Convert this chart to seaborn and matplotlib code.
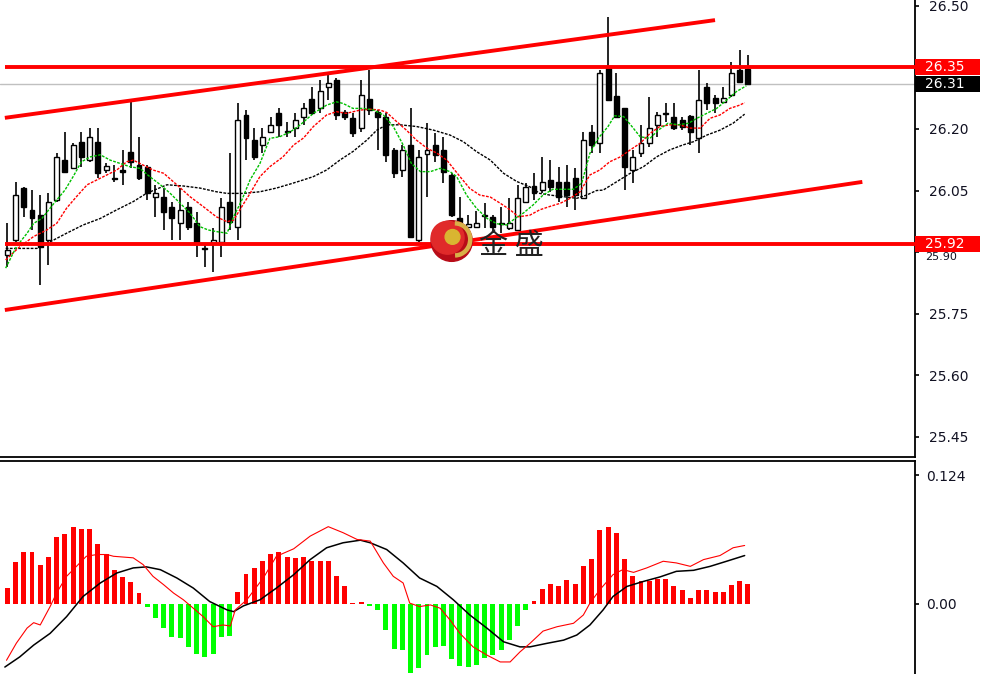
import numpy as np
import pandas as pd
import matplotlib
matplotlib.use('Agg')
import matplotlib.pyplot as plt
import matplotlib.transforms as mtransforms
from matplotlib.patches import Rectangle, Ellipse, Arc
import seaborn as sns

# candles
opens = [25.893, 25.930, 26.056, 26.003, 25.991, 25.930, 26.027, 26.124, 26.105, 26.168,
         26.124, 26.168, 26.100, 26.081, 26.100, 26.144, 26.112, 26.107, 26.034, 26.034,
         26.010, 25.971, 26.010, 25.971, 25.910, 25.922, 25.925, 26.022, 25.961, 26.234,
         26.173, 26.161, 26.193, 26.239, 26.195, 26.202, 26.229, 26.273, 26.251, 26.302,
         26.319, 26.241, 26.227, 26.202, 26.273, 26.241, 26.229, 26.149, 26.100, 26.161,
         25.930, 26.139, 26.161, 26.149, 26.088, 25.983, 25.961, 25.961, 25.988, 25.986,
         25.971, 25.959, 25.954, 26.022, 26.061, 26.051, 26.076, 26.071, 26.071, 26.081,
         26.032, 26.193, 26.166, 26.348, 26.280, 26.251, 26.100, 26.141, 26.166, 26.210,
         26.236, 26.229, 26.222, 26.232, 26.178, 26.302, 26.275, 26.266, 26.283, 26.344,
         26.346]
highs = [25.971, 26.071, 26.059, 26.051, 26.039, 26.044, 26.141, 26.193, 26.166, 26.193,
         26.202, 26.202, 26.117, 26.112, 26.149, 26.266, 26.180, 26.112, 26.064, 26.056,
         26.022, 26.056, 26.022, 25.998, 25.917, 25.959, 26.032, 26.141, 26.263, 26.246,
         26.202, 26.202, 26.229, 26.251, 26.217, 26.239, 26.263, 26.302, 26.319, 26.339,
         26.324, 26.246, 26.239, 26.319, 26.344, 26.246, 26.239, 26.154, 26.161, 26.251,
         26.149, 26.215, 26.190, 26.180, 26.093, 26.034, 25.991, 26.000, 26.020, 25.991,
         26.010, 26.032, 26.064, 26.068, 26.093, 26.132, 26.124, 26.107, 26.112, 26.105,
         26.193, 26.210, 26.344, 26.473, 26.336, 26.251, 26.149, 26.210, 26.278, 26.241,
         26.263, 26.263, 26.229, 26.234, 26.344, 26.312, 26.283, 26.302, 26.363, 26.392,
         26.380]
lows = [25.864, 25.925, 25.986, 25.954, 25.820, 25.869, 26.022, 26.095, 26.105, 26.107,
        26.120, 26.081, 26.093, 26.071, 26.064, 26.105, 26.076, 26.027, 25.986, 25.954,
        25.930, 25.930, 25.954, 25.888, 25.864, 25.852, 25.888, 25.954, 25.930, 26.124,
        26.124, 26.141, 26.190, 26.180, 26.180, 26.180, 26.210, 26.234, 26.239, 26.270,
        26.222, 26.222, 26.180, 26.193, 26.234, 26.149, 26.120, 26.081, 26.083, 25.937,
        25.925, 26.034, 26.120, 26.068, 25.986, 25.947, 25.947, 25.959, 25.959, 25.947,
        25.947, 25.954, 25.954, 26.020, 26.027, 26.044, 26.046, 26.022, 26.010, 26.003,
        26.032, 26.141, 26.141, 26.270, 26.229, 26.051, 26.068, 26.132, 26.156, 26.180,
        26.217, 26.197, 26.197, 26.161, 26.141, 26.246, 26.239, 26.263, 26.278, 26.314,
        26.307]
closes = [25.905, 26.039, 26.010, 25.983, 25.913, 26.022, 26.132, 26.095, 26.161, 26.132,
          26.180, 26.093, 26.110, 26.078, 26.095, 26.120, 26.081, 26.044, 26.044, 25.998,
          25.983, 26.003, 25.961, 25.925, 25.908, 25.930, 26.010, 25.973, 26.222, 26.178,
          26.132, 26.180, 26.210, 26.210, 26.193, 26.222, 26.251, 26.239, 26.292, 26.312,
          26.234, 26.229, 26.190, 26.283, 26.246, 26.229, 26.137, 26.093, 26.149, 25.937,
          26.132, 26.149, 26.137, 26.095, 25.991, 25.973, 25.969, 25.971, 25.991, 25.961,
          25.969, 25.971, 26.032, 26.059, 26.044, 26.071, 26.059, 26.034, 26.039, 26.039,
          26.173, 26.161, 26.336, 26.270, 26.229, 26.107, 26.132, 26.166, 26.202, 26.234,
          26.239, 26.202, 26.205, 26.193, 26.270, 26.263, 26.263, 26.275, 26.336, 26.314,
          26.310]

# moving averages on the price pane (bar index, price)
ma_fast_x = [-0.2, 1.1, 2.4, 3.2, 4.2, 5.2, 6.0, 7.0, 8.0, 9.0, 10.1, 11.3, 12.5, 13.7, 14.9,
             16.1, 17.3, 18.6, 19.8, 21.0, 22.2, 23.4, 24.4, 25.4, 26.7, 27.5, 28.5, 29.5,
             30.7, 31.9, 33.1, 34.4, 35.6, 37.2, 38.8, 40.0, 40.8, 42.0, 43.3, 44.5, 45.7,
             46.9, 48.1, 49.1, 50.2, 51.4, 52.6, 53.8, 54.6, 55.8, 57.0, 58.3, 59.5, 60.7,
             61.7, 62.7, 63.9, 65.1, 66.3, 67.6, 68.8, 69.8, 70.8, 71.8, 73.0, 73.8, 74.9,
             75.9, 76.9, 78.1, 79.1, 80.3, 81.5, 82.8, 83.8, 85.0, 86.2, 87.4, 88.6, 89.8]
ma_fast_y = [25.861, 25.913, 25.946, 25.970, 25.982, 26.007, 26.027, 26.051, 26.084, 26.120,
             26.132, 26.137, 26.124, 26.116, 26.108, 26.104, 26.084, 26.064, 26.043, 26.019,
             25.995, 25.962, 25.954, 25.950, 25.946, 25.986, 26.027, 26.076, 26.116, 26.177,
             26.181, 26.193, 26.210, 26.238, 26.258, 26.266, 26.262, 26.250, 26.250, 26.246,
             26.234, 26.206, 26.161, 26.116, 26.096, 26.096, 26.104, 26.096, 26.084, 26.039,
             26.007, 25.982, 25.969, 25.966, 25.982, 25.995, 26.015, 26.039, 26.053, 26.053,
             26.053, 26.068, 26.141, 26.177, 26.206, 26.232, 26.230, 26.206, 26.181, 26.177,
             26.197, 26.214, 26.210, 26.214, 26.226, 26.238, 26.250, 26.270, 26.291, 26.305]
ma_mid_x = [-0.2, 1.5, 3.2, 4.8, 6.0, 7.2, 8.4, 9.7, 10.9, 12.1, 13.3, 14.5, 15.3, 16.5,
            17.7, 19.0, 20.6, 22.2, 23.8, 25.4, 26.7, 27.5, 28.5, 29.5, 30.7, 31.9, 33.5,
            34.8, 36.0, 37.2, 38.8, 40.0, 41.2, 42.9, 44.1, 45.3, 46.1, 47.3, 48.5, 49.7,
            51.0, 52.2, 53.4, 55.0, 56.2, 57.4, 58.7, 59.9, 61.1, 62.1, 63.5, 64.7, 65.9,
            67.2, 68.4, 69.6, 70.8, 72.0, 73.2, 74.5, 75.7, 76.9, 78.1, 79.3, 80.5, 81.7,
            83.0, 84.2, 85.4, 86.6, 87.8, 89.0, 89.6]
ma_mid_y = [25.881, 25.913, 25.938, 25.954, 25.970, 26.007, 26.035, 26.064, 26.076, 26.088,
            26.100, 26.120, 26.124, 26.112, 26.100, 26.092, 26.064, 26.035, 26.011, 25.986,
            25.974, 25.978, 26.011, 26.043, 26.084, 26.108, 26.132, 26.161, 26.178, 26.206,
            26.234, 26.242, 26.238, 26.246, 26.248, 26.246, 26.240, 26.218, 26.197, 26.173,
            26.153, 26.141, 26.124, 26.084, 26.055, 26.039, 26.034, 26.019, 26.003, 25.986,
            25.990, 26.003, 26.011, 26.019, 26.031, 26.047, 26.088, 26.100, 26.120, 26.132,
            26.149, 26.165, 26.189, 26.206, 26.210, 26.210, 26.202, 26.202, 26.226, 26.234,
            26.250, 26.258, 26.264]
ma_slow_x = [-0.2, 1.5, 3.6, 5.2, 7.2, 9.2, 11.3, 13.3, 15.3, 16.9, 19.4, 21.4, 23.4, 25.4,
             26.7, 28.7, 30.7, 32.7, 34.4, 36.0, 37.2, 38.8, 40.4, 42.0, 43.7, 44.9, 46.1,
             47.7, 49.7, 51.8, 53.8, 55.4, 57.0, 58.7, 60.3, 61.9, 63.5, 64.7, 65.9, 67.6,
             69.2, 70.4, 71.6, 72.4, 74.1, 75.7, 77.3, 78.9, 80.5, 82.1, 83.4, 85.0, 86.6,
             88.2, 89.6]
ma_slow_y = [25.909, 25.909, 25.909, 25.925, 25.946, 25.966, 25.982, 26.003, 26.023, 26.043,
             26.064, 26.061, 26.056, 26.047, 26.043, 26.043, 26.047, 26.056, 26.066, 26.076,
             26.084, 26.100, 26.124, 26.145, 26.173, 26.197, 26.210, 26.210, 26.206, 26.197,
             26.185, 26.169, 26.145, 26.124, 26.092, 26.072, 26.059, 26.043, 26.039, 26.035,
             26.031, 26.039, 26.050, 26.051, 26.072, 26.092, 26.108, 26.132, 26.149, 26.161,
             26.169, 26.185, 26.197, 26.214, 26.236]

# hand-drawn levels
upper_x = [-0.3, 86.0]
upper_y = [26.227, 26.465]
lower_x = [-0.3, 103.9]
lower_y = [25.759, 26.071]
levels = [26.35, 25.92]
last_price = 26.31
price_ticks = [25.45, 25.60, 25.75, 25.90, 26.05, 26.20, 26.35, 26.50]

# MACD pane
hist = [0.0152, 0.040, 0.050, 0.050, 0.0378, 0.0449, 0.0643, 0.0675, 0.0743, 0.0717,
        0.0724, 0.0572, 0.0484, 0.0329, 0.0258, 0.0207, 0.0103, -0.0032, -0.0139, -0.0236,
        -0.0323, -0.0333, -0.0413, -0.0484, -0.0510, -0.0484, -0.0323, -0.031, 0.0119, 0.029,
        0.0346, 0.041, 0.0484, 0.0497, 0.0452, 0.0442, 0.0452, 0.041, 0.041, 0.041,
        0.0271, 0.0174, 0.0013, 0.002, -0.002, -0.0058, -0.0252, -0.043, -0.0446, -0.067,
        -0.0614, -0.0494, -0.0413, -0.0407, -0.0527, -0.060, -0.0607, -0.059, -0.0525, -0.0494,
        -0.0446, -0.0349, -0.0213, -0.0058, 0.0032, 0.0142, 0.019, 0.0168, 0.0226, 0.019,
        0.0362, 0.0433, 0.071, 0.0743, 0.0678, 0.0433, 0.0271, 0.0223, 0.0216, 0.0242,
        0.0239, 0.0174, 0.0129, 0.0052, 0.0129, 0.0135, 0.0119, 0.0119, 0.0184, 0.0223,
        0.019]
macd_x = [-0.1, 1.1, 2.4, 3.2, 4.0, 5.2, 6.0, 7.2, 8.4, 9.6, 10.9, 12.1, 12.9, 15.3, 16.5,
          17.7, 19.0, 20.2, 21.4, 22.6, 23.8, 25.0, 26.2, 27.1, 27.7, 29.1, 31.1, 32.7, 34.8,
          36.8, 39.0, 40.8, 42.5, 44.1, 45.7, 46.9, 48.1, 48.9, 50.1, 51.4, 52.6, 53.8, 55.0,
          56.6, 58.3, 59.9, 61.1, 62.3, 63.5, 65.1, 66.8, 68.8, 70.0, 70.8, 72.0, 73.6, 74.8,
          76.1, 77.7, 79.7, 81.3, 83.0, 84.6, 86.6, 88.2, 89.6]
macd_y = [-0.0543, -0.0378, -0.0233, -0.0181, -0.0203, -0.0026, 0.0107, 0.0265, 0.0361, 0.0458,
          0.0475, 0.0475, 0.0458, 0.0443, 0.0378, 0.0265, 0.0184, 0.0104, 0.0039, -0.0042,
          -0.0123, -0.022, -0.0203, -0.0213, -0.0058, 0.0039, 0.0249, 0.0458, 0.053, 0.0652,
          0.0743, 0.0685, 0.062, 0.0604, 0.0394, 0.0265, 0.0201, 0.0007, -0.0026, -0.001,
          -0.0042, -0.0155, -0.0284, -0.0414, -0.0494, -0.0559, -0.0559, -0.0462, -0.0381, -0.0262,
          -0.022, -0.0187, -0.0107, 0.0007, 0.0136, 0.0281, 0.033, 0.0303, 0.0346, 0.041,
          0.0394, 0.0361, 0.0426, 0.0465, 0.054, 0.0562]
signal_x = [-0.3, 1.5, 3.2, 5.2, 7.2, 9.2, 11.3, 13.3, 15.3, 16.9, 18.6, 20.6, 22.6, 24.6,
            26.7, 27.5, 28.7, 30.7, 32.7, 34.8, 36.8, 38.8, 40.8, 42.9, 44.1, 46.1, 48.1,
            50.1, 52.2, 54.2, 56.2, 58.3, 60.3, 62.3, 63.5, 65.5, 67.6, 69.2, 70.8, 72.4,
            73.6, 75.3, 77.3, 79.3, 81.3, 83.4, 85.4, 87.4, 89.6]
signal_y = [-0.0608, -0.0511, -0.0397, -0.0284, -0.0123, 0.0071, 0.0201, 0.0297, 0.0346, 0.0356,
            0.0329, 0.0249, 0.0152, 0.0022, -0.0058, -0.0075, -0.0019, 0.0039, 0.0152, 0.0281,
            0.0426, 0.054, 0.0588, 0.0613, 0.0588, 0.0523, 0.0394, 0.0249, 0.0168, 0.0039,
            -0.0107, -0.0235, -0.0365, -0.0414, -0.0414, -0.0381, -0.0349, -0.03, -0.0203, -0.0058,
            0.0071, 0.0168, 0.0216, 0.0259, 0.0313, 0.0323, 0.0361, 0.041, 0.0465]
macd_ticks = [0.0, 0.124]
macd_labels = ['0.00', '0.124']

sns.set_theme(style='white')
plt.rcParams['font.family'] = ['DejaVu Sans']

W, H = 981, 674
fig = plt.figure(figsize=(W / 100, H / 100), dpi=100)
ax = fig.add_axes([0, 1 - 457 / H, 915 / W, 457 / H])
ax2 = fig.add_axes([0, 0, 915 / W, 213 / H])

idx = np.arange(len(opens))
o = np.array(opens)
c = np.array(closes)
up = c >= o

# candles
ax.vlines(idx, lows, highs, color='black', lw=1.2, zorder=2)
body_lo = np.minimum(o, c)
body_h = np.maximum(np.abs(c - o), 0.0015)
ax.bar(idx[up], body_h[up], bottom=body_lo[up], width=0.6, color='white',
       edgecolor='black', linewidth=1.0, zorder=3)
ax.bar(idx[~up], body_h[~up], bottom=body_lo[~up], width=0.6, color='black',
       edgecolor='black', linewidth=1.0, zorder=3)

# moving averages
sns.lineplot(x=ma_slow_x, y=ma_slow_y, ax=ax, color='black', lw=1.0,
             linestyle=(0, (2, 1)), estimator=None, sort=False, zorder=4)
sns.lineplot(x=ma_mid_x, y=ma_mid_y, ax=ax, color='#ff0000', lw=1.0,
             linestyle=(0, (2, 1)), estimator=None, sort=False, zorder=4)
sns.lineplot(x=ma_fast_x, y=ma_fast_y, ax=ax, color='#00c000', lw=1.0,
             linestyle=(0, (2, 1)), estimator=None, sort=False, zorder=4)

# grey bid line and red levels
ax.axhline(last_price, color='#c0c0c0', lw=1.0, zorder=1)
xmin, xmax = -0.89, 110.3
for lv in levels:
    ax.hlines(lv, upper_x[0], xmax, color='#ff0000', lw=2.8, zorder=5)
ax.plot(upper_x, upper_y, color='#ff0000', lw=2.8, zorder=5, solid_capstyle='butt')
ax.plot(lower_x, lower_y, color='#ff0000', lw=2.8, zorder=5, solid_capstyle='butt')

# watermark logo
lx, ly = 54.0, 25.927
ax.add_patch(Ellipse((lx, ly), 5.0, 0.099, color='#b80c18', zorder=6))
ax.add_patch(Ellipse((lx - 0.5, ly + 0.008), 4.0, 0.080, color='#e02a2a', zorder=6))
ax.add_patch(Arc((lx + 0.4, ly + 0.004), 3.7, 0.078, theta1=-80, theta2=120,
                 color='#d8b048', lw=3.2, zorder=7))
ax.add_patch(Ellipse((lx + 0.1, ly + 0.010), 1.8, 0.036, color='#d9b531', zorder=7))
ax.text(57.3, 25.916, '金 盛', fontsize=21, color='#222222', va='center', ha='left',
        family=['Noto Sans CJK SC', 'DejaVu Sans'], zorder=8)

ax.set_xlim(xmin, xmax)
ax.set_ylim(25.401, 26.514)
ax.set_xticks([])
ax.yaxis.tick_right()
ax.set_yticks(price_ticks)
# 26.35 is hidden behind its level box; 25.90 peeks out just under its box
tick_text = ['%.2f' % t if t not in (26.35, 25.90) else '' for t in price_ticks]
ax.set_yticklabels(tick_text)
ax.tick_params(axis='y', direction='out', length=3, width=1.2, color='black',
               labelsize=10, labelcolor='#111122', pad=7, right=True)
for s in ['top', 'left']:
    ax.spines[s].set_visible(False)
for s in ['right', 'bottom']:
    ax.spines[s].set_color('black')
    ax.spines[s].set_linewidth(1.3)

# price boxes on the axis
tr = mtransforms.blended_transform_factory(ax.transAxes, ax.transData)
bw = 65 / 915
bh = 16 * (26.514 - 25.401) / 457
for lv, fc in [(levels[0], '#ff0000'), (last_price, 'black'), (levels[1], '#ff0000')]:
    yc = lv if lv != last_price else lv - 0.001
    ax.add_patch(Rectangle((1.0, yc - bh / 2), bw, bh, transform=tr, facecolor=fc,
                           edgecolor='none', clip_on=False, zorder=10))
    ax.text(1.0 + 10 / 915, yc, '%.2f' % lv, transform=tr, color='white', fontsize=10,
            va='center', ha='left', clip_on=False, zorder=11)
ax.text(1.0 + 10 / 915, levels[1] - bh / 2 - 0.001, '25.90', transform=tr, color='#111122',
        fontsize=8, va='top', ha='left', clip_on=False, zorder=9)

# MACD histogram and lines
dfh = pd.DataFrame({'bar': idx, 'value': hist})
dfh['sign'] = np.where(dfh['value'] >= 0, 'pos', 'neg')
sns.barplot(data=dfh, x='bar', y='value', hue='sign', palette={'pos': '#ff0000', 'neg': '#00ff00'},
            native_scale=True, dodge=False, width=0.6, errorbar=None, legend=False,
            linewidth=0, saturation=1, ax=ax2)
sns.lineplot(x=signal_x, y=signal_y, ax=ax2, color='black', lw=1.1, estimator=None,
             sort=False, zorder=4)
sns.lineplot(x=macd_x, y=macd_y, ax=ax2, color='#ff0000', lw=0.8, estimator=None,
             sort=False, zorder=4)

ax2.set_xlim(xmin, xmax)
ax2.set_ylim(-0.0675, 0.1375)
ax2.set_xticks([])
ax2.set_xlabel('')
ax2.set_ylabel('')
ax2.yaxis.tick_right()
ax2.set_yticks(macd_ticks)
ax2.set_yticklabels(macd_labels)
ax2.tick_params(axis='y', direction='out', length=3, width=1.2, color='black',
                labelsize=10, labelcolor='#111122', pad=5, right=True)
for s in ['bottom', 'left']:
    ax2.spines[s].set_visible(False)
for s in ['right', 'top']:
    ax2.spines[s].set_color('black')
    ax2.spines[s].set_linewidth(1.3)

fig.savefig('out.png', dpi=100, facecolor='white')
